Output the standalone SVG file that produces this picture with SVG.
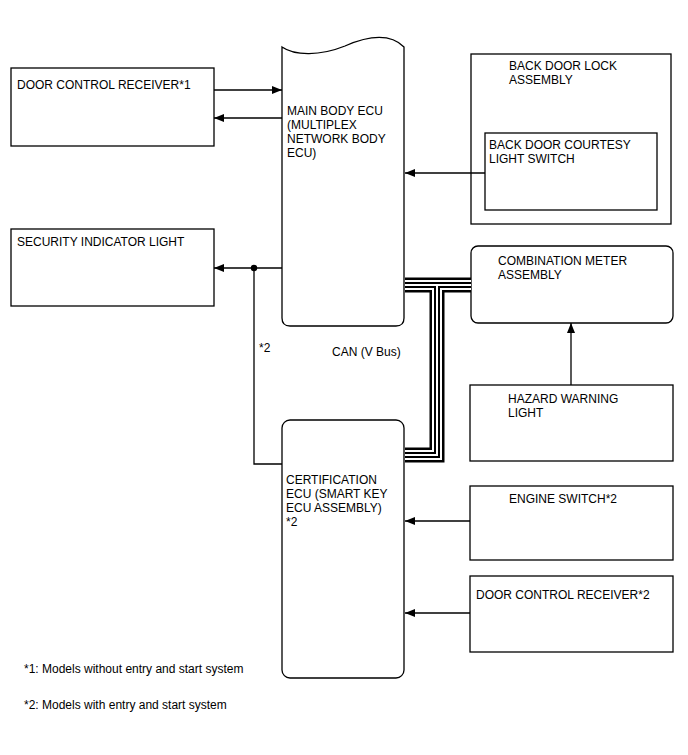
<svg xmlns="http://www.w3.org/2000/svg" width="688" height="755" viewBox="0 0 688 755">
<defs>
<marker id="ah" viewBox="0 0 10 8" refX="10" refY="4" markerWidth="10" markerHeight="8" markerUnits="userSpaceOnUse" orient="auto">
<path d="M0,0 L10,4 L0,8 Z" fill="#000"/>
</marker>
<style>
.box{fill:#fff;stroke:#000;stroke-width:1.3}
.t{font-family:"Liberation Sans",Arial,sans-serif;font-size:12px;fill:#000}
.w{fill:none;stroke:#000;stroke-width:1.3}
.a{fill:none;stroke:#000;stroke-width:1.3;marker-end:url(#ah)}
</style>
</defs>
<rect width="688" height="755" fill="#fff"/>

<g id="door-control-receiver-1">
<rect class="box" x="11" y="68" width="203" height="78"/>
<text class="t" x="17" y="89">DOOR CONTROL RECEIVER*1</text>
</g>

<g id="main-body-ecu">
<path class="box" d="M282,47 C295,56 320,56 345,46 C368,36 390,33 404,47 V318 Q404,326 396,326 H290 Q282,326 282,318 Z"/>
<text class="t" x="287" y="115">MAIN BODY ECU</text>
<text class="t" x="287" y="129">(MULTIPLEX</text>
<text class="t" x="287" y="143">NETWORK BODY</text>
<text class="t" x="287" y="157">ECU)</text>
</g>

<g id="back-door-lock-assembly">
<rect class="box" x="471" y="54" width="200" height="170"/>
<text class="t" x="509" y="70">BACK DOOR LOCK</text>
<text class="t" x="509" y="84">ASSEMBLY</text>
</g>

<g id="back-door-courtesy-light-switch">
<rect class="box" x="485" y="133" width="172" height="77"/>
<text class="t" x="489" y="149">BACK DOOR COURTESY</text>
<text class="t" x="489" y="163">LIGHT SWITCH</text>
</g>

<g id="security-indicator-light">
<rect class="box" x="11" y="229" width="203" height="77"/>
<text class="t" x="17" y="246">SECURITY INDICATOR LIGHT</text>
</g>

<g id="combination-meter-assembly">
<rect class="box" x="471" y="246" width="202" height="77" rx="7"/>
<text class="t" x="498" y="265">COMBINATION METER</text>
<text class="t" x="498" y="279">ASSEMBLY</text>
</g>

<g id="hazard-warning-light">
<rect class="box" x="470" y="385" width="203" height="76"/>
<text class="t" x="508" y="403">HAZARD WARNING</text>
<text class="t" x="508" y="417">LIGHT</text>
</g>

<g id="certification-ecu">
<rect class="box" x="282" y="420" width="122" height="258" rx="8"/>
<text class="t" x="286" y="484">CERTIFICATION</text>
<text class="t" x="286" y="498">ECU (SMART KEY</text>
<text class="t" x="286" y="512">ECU ASSEMBLY)</text>
<text class="t" x="286" y="526">*2</text>
</g>

<g id="engine-switch-2">
<rect class="box" x="470" y="486" width="203" height="74"/>
<text class="t" x="509" y="503">ENGINE SWITCH*2</text>
</g>

<g id="door-control-receiver-2">
<rect class="box" x="470" y="576" width="203" height="76"/>
<text class="t" x="476" y="599">DOOR CONTROL RECEIVER*2</text>
</g>

<g id="connectors">
<line class="a" x1="214" y1="90" x2="282" y2="90"/>
<line class="a" x1="282" y1="118" x2="214" y2="118"/>
<line class="a" x1="485" y1="173" x2="405" y2="173"/>
<line class="a" x1="282" y1="268" x2="214" y2="268"/>
<circle cx="254" cy="268" r="3.2" fill="#000"/>
<polyline class="w" points="254,268 254,464 282,464"/>
<line class="a" x1="571" y1="385" x2="571" y2="323"/>
<line class="a" x1="470" y1="521" x2="405" y2="521"/>
<line class="a" x1="470" y1="613" x2="405" y2="613"/>
<g id="can-bus" fill="none">
<path d="M405,285 H471 M437,285 V455 H405" stroke="#000" stroke-width="15"/>
<path d="M405,285 H471 M437,285 V455 H405" stroke="#fff" stroke-width="10"/>
<path d="M405,285 H471 M437,285 V455 H405" stroke="#000" stroke-width="6"/>
<path d="M405,285 H471 M437,285 V455 H405" stroke="#fff" stroke-width="2"/>
</g>
<text class="t" x="259" y="352">*2</text>
<text class="t" x="332" y="356">CAN (V Bus)</text>
</g>

<g id="footnotes">
<text class="t" x="24" y="673">*1: Models without entry and start system</text>
<text class="t" x="24" y="709">*2: Models with entry and start system</text>
</g>
</svg>
